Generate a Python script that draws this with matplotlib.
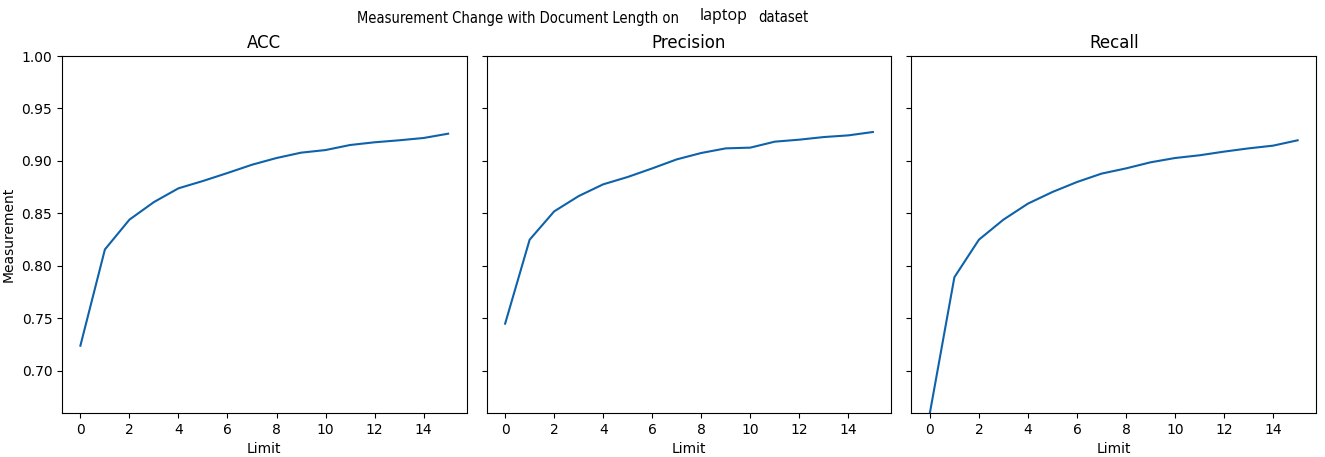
import matplotlib.pyplot as plt
import numpy as np

limits = np.arange(16)

acc = [0.7237, 0.8155, 0.8439, 0.8607, 0.8738, 0.8808, 0.8884, 0.8963,
       0.9027, 0.9078, 0.9103, 0.9151, 0.9177, 0.9196, 0.9218, 0.9259]
precision = [0.7447, 0.8248, 0.8518, 0.8664, 0.8776, 0.8846, 0.8928, 0.9014,
             0.9075, 0.9119, 0.9126, 0.9183, 0.9202, 0.9227, 0.9243, 0.9275]
recall = [0.6595, 0.7890, 0.8248, 0.8439, 0.8592, 0.8703, 0.8798, 0.8878,
          0.8928, 0.8986, 0.9027, 0.9053, 0.9088, 0.9119, 0.9145, 0.9196]

titles = ["ACC", "Precision", "Recall"]
series = [acc, precision, recall]

fig, axes = plt.subplots(1, 3, sharey=True, figsize=(13.25, 4.57), dpi=100)
fig.subplots_adjust(left=62 / 1325, right=1316 / 1325, bottom=1 - 413 / 457,
                    top=1 - 56 / 457, wspace=0.05)

for ax, title, values in zip(axes, titles, series):
    ax.plot(limits, values, color="#0e62aa", linewidth=1.5)
    ax.set_title(title)
    ax.set_xlabel("Limit")
    ax.set_xticks(range(0, 16, 2))

axes[0].set_ylim(min(recall), 1.0)
axes[0].set_ylabel("Measurement")

# title with the dataset name in a different font
fig.text(357 / 1325, 1 - 18 / 457, "Measurement Change with Document Length on",
         ha="left", va="center", fontsize=10.5, fontstretch="condensed")
fig.text(700 / 1325, 1 - 16 / 457, "laptop", ha="left", va="center",
         fontsize=11.5, family="Open Sans")
fig.text(758 / 1325, 1 - 18 / 457, "dataset", ha="left", va="center",
         fontsize=10.5, fontstretch="condensed")

fig.savefig("out.png")
